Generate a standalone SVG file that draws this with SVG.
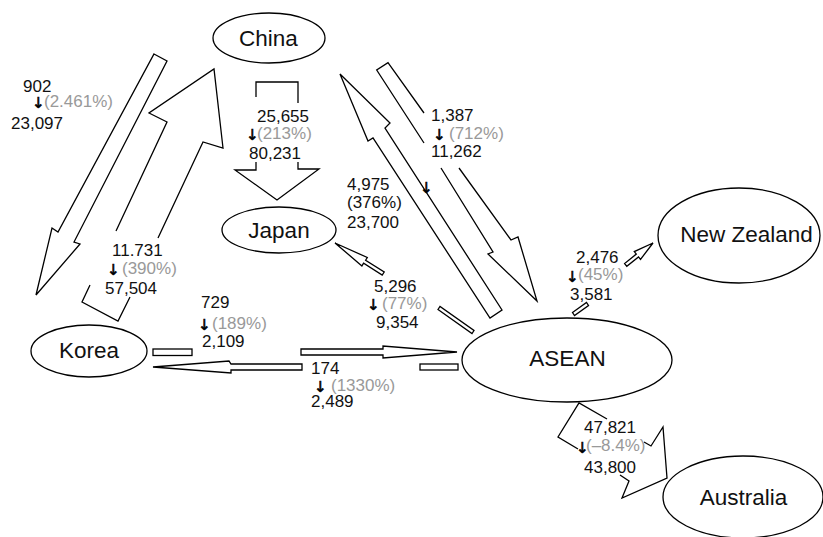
<svg xmlns="http://www.w3.org/2000/svg" width="823" height="537" viewBox="0 0 823 537">
<style>
.n{fill:#fff;stroke:#000;stroke-width:1.3}
.nt{font-family:"Liberation Sans",Arial,sans-serif;font-size:22.5px;text-anchor:middle;fill:#111}
.a{fill:none;stroke:#000;stroke-width:1.3;stroke-linejoin:miter}
.t{font-family:"Liberation Sans",Arial,sans-serif;font-size:17px;fill:#111}
.g{fill:#999}
.d{font-family:"DejaVu Sans",sans-serif;font-size:15px;fill:#000;stroke:#000;stroke-width:0.6}
</style>
<rect width="823" height="537" fill="#fff"/>
<g id="connectors">
  <g id="china-korea">
    <polygon class="a" points="154,54 167,61 74,242 80,244 36,295 52,228 58,232"/>
    <text class="t"><tspan x="23" y="92">902</tspan><tspan class="d" x="32" y="108">↓</tspan><tspan class="g" x="44" y="107">(2.461%)</tspan><tspan x="11" y="129">23,097</tspan></text>
  </g>
  <g id="korea-china">
    <path class="a" d="M90,285 L82,302 L118,321 L130,297 M158,238 L203,142 L223,148 L214,69 L149,113 L167,122 L116,231"/>
    <text class="t"><tspan x="112" y="256">11.731</tspan><tspan class="d" x="107" y="275">↓</tspan><tspan class="g" x="122" y="274">(390%)</tspan><tspan x="105" y="294">57,504</tspan></text>
  </g>
  <g id="china-japan">
    <path class="a" d="M256,97 L256,82 L298,82 L298,103 M298,162 L298,169 L319,169 L277,200 L235,170 L256,170 L256,162"/>
    <text class="t"><tspan x="257" y="122">25,655</tspan><tspan class="d" x="246" y="140">↓</tspan><tspan class="g" x="257" y="139">(213%)</tspan><tspan x="249" y="159">80,231</tspan></text>
  </g>
  <g id="asean-china">
    <polygon class="a" points="340,74 390,123 385,128 502,310 490,318 373,138 368,141"/>
    <text class="t"><tspan x="347" y="190">4,975</tspan><tspan x="347" y="208">(376%)</tspan><tspan x="347" y="228">23,700</tspan></text>
    <text class="d" x="420" y="193">↓</text>
  </g>
  <g id="china-asean">
    <path class="a" d="M424,143 L376.7,70 L388,62.7 L424,113 M459,168 L511,240 L518,237 L537,301 L488,254 L493,252 L441,168"/>
    <text class="t"><tspan x="431" y="121">1,387</tspan><tspan class="d" x="433" y="140">↓</tspan><tspan class="g" x="449" y="139">(712%)</tspan><tspan x="431" y="157">11,262</tspan></text>
  </g>
  <g id="asean-japan">
    <polygon class="a" points="335,243 367.3,257.5 365.6,260.2 384.2,272 382.2,275 363.6,263.2 361.9,265.9"/>
    <polygon class="a" points="438,309.5 472,333.5 474,330.5 440,306.5"/>
    <text class="t"><tspan x="374" y="292">5,296</tspan><tspan class="d" x="367" y="310">↓</tspan><tspan class="g" x="382" y="309">(77%)</tspan><tspan x="376" y="328">9,354</tspan></text>
  </g>
  <g id="asean-nz">
    <polygon class="a" points="572.5,312.5 586.5,302.5 588.5,305.5 574.5,315.5"/>
    <polygon class="a" points="653,243 640.5,259.4 638.5,256.9 626.8,266.3 624.6,263.5 636.3,254.1 634.3,251.6"/>
    <text class="t"><tspan x="576" y="263">2,476</tspan><tspan class="d" x="566" y="282">↓</tspan><tspan class="g" x="578" y="280">(45%)</tspan><tspan x="570" y="300">3,581</tspan></text>
  </g>
  <g id="korea-asean">
    <rect class="a" x="153" y="349" width="39" height="6.5"/>
    <polygon class="a" points="301,349 383,349 383,346 457,352 383,358 383,355 301,355"/>
    <text class="t"><tspan x="201" y="308">729</tspan><tspan class="d" x="198" y="330">↓</tspan><tspan class="g" x="212" y="329">(189%)</tspan><tspan x="202" y="347">2,109</tspan></text>
  </g>
  <g id="asean-korea">
    <rect class="a" x="420" y="364" width="38" height="6"/>
    <polygon class="a" points="302,364 231,364 229,361 153,367 231,373 231,370 302,370"/>
    <text class="t"><tspan x="311" y="374">174</tspan><tspan class="d" x="314" y="392">↓</tspan><tspan class="g" x="331" y="391">(1330%)</tspan><tspan x="311" y="407">2,489</tspan></text>
  </g>
  <g id="asean-australia">
    <path class="a" d="M607,419 L579,403 L558,437 L578,449 M620,475 L629,481 L622,498 L667,478 L663,427 L651,446 L644,442"/>
    <text class="t"><tspan x="584" y="433">47,821</tspan><tspan class="d" x="576" y="453">↓</tspan><tspan class="g" x="586" y="451">(–8.4%)</tspan><tspan x="584" y="473">43,800</tspan></text>
  </g>
</g>
<g id="china"><ellipse class="n" cx="269" cy="38" rx="56" ry="25"/><text class="nt" x="268.5" y="45.5">China</text></g>
<g id="japan"><ellipse class="n" cx="279" cy="230" rx="57" ry="23"/><text class="nt" x="279" y="238">Japan</text></g>
<g id="korea"><ellipse class="n" cx="89" cy="351" rx="58" ry="26"/><text class="nt" x="89" y="358">Korea</text></g>
<g id="asean"><ellipse class="n" cx="567" cy="360" rx="105" ry="42"/><text class="nt" x="567.5" y="366">ASEAN</text></g>
<g id="new-zealand"><ellipse class="n" cx="739" cy="235.5" rx="81" ry="47.5"/><text class="nt" x="746.5" y="242">New Zealand</text></g>
<g id="australia"><ellipse class="n" cx="743" cy="497" rx="80" ry="41"/><text class="nt" x="743.5" y="505">Australia</text></g>
</svg>
